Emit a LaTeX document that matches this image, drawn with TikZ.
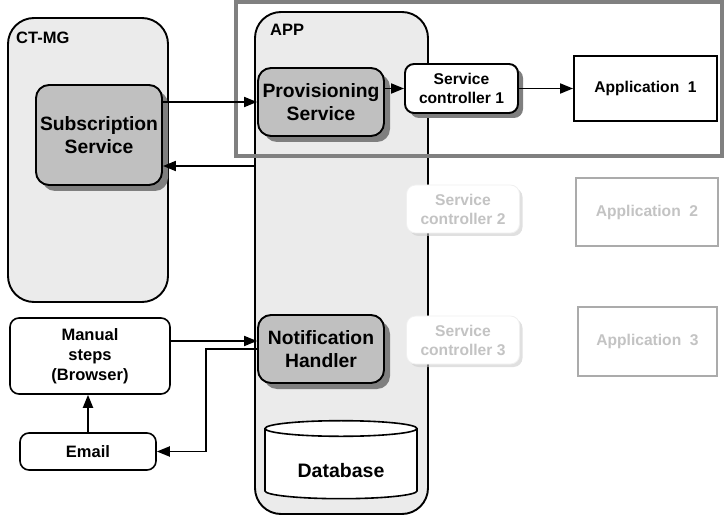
\documentclass[tikz,border=0pt]{standalone}
\usepackage{fontspec}
\setmainfont{Liberation Sans}
\usetikzlibrary{arrows.meta,shadows,shapes.geometric}

\definecolor{panelgray}{HTML}{EBEBEB}
\definecolor{boxgray}{HTML}{C0C0C0}
\definecolor{shadegray}{HTML}{7F7F7F}
\definecolor{fadetext}{HTML}{C3C3C3}
\definecolor{fadeline}{HTML}{ABABAB}
\definecolor{framegray}{HTML}{808080}

\tikzset{
    panel/.style={draw, line width=1.9pt, fill=panelgray, rounded corners=26pt, inner sep=0pt},
    paneltitle/.style={anchor=west, inner sep=0pt, font=\fontsize{16.5}{19}\selectfont\bfseries},
    service/.style={draw, line width=1.9pt, fill=boxgray, rounded corners=13pt, align=center,
        inner sep=0pt, font=\fontsize{19.3}{22.5}\selectfont\bfseries,
        drop shadow={shadow xshift=6pt, shadow yshift=-6pt, fill=shadegray, opacity=1}},
    ctrl/.style={draw, line width=1.9pt, fill=white, rounded corners=9pt, align=center,
        inner sep=0pt, minimum width=113pt, minimum height=49pt,
        font=\fontsize{15.6}{19}\selectfont\bfseries,
        drop shadow={shadow xshift=5pt, shadow yshift=-5pt, fill=shadegray, opacity=1}},
    ctrlfaded/.style={draw=black!6, line width=0.8pt, fill=white, rounded corners=9pt, align=center,
        inner sep=0pt, minimum width=113pt, minimum height=48pt, text=fadetext,
        font=\fontsize{15.6}{19}\selectfont\bfseries,
        drop shadow={shadow xshift=3pt, shadow yshift=-3pt, fill=black!20, opacity=0.6}},
    appbox/.style={draw, line width=1.9pt, fill=white, inner sep=0pt,
        font=\fontsize{15.6}{18}\selectfont\bfseries},
    appfaded/.style={appbox, draw=fadeline, text=fadetext},
    plainbox/.style={draw, line width=1.6pt, fill=white, rounded corners=9pt, align=center,
        inner sep=0pt, font=\fontsize{16.5}{20}\selectfont\bfseries},
    flow/.style={-{Triangle[length=13pt,width=10pt]}, line width=1.9pt},
}

\begin{document}
\begin{tikzpicture}[x=1pt,y=-1pt]
    \useasboundingbox (0,0) rectangle (724,516);
    % containers
    \node[panel, minimum width=160pt, minimum height=284pt] (ctmg) at (88,160) {};
    \node[panel, minimum width=173pt, minimum height=502pt] (app) at (341.5,263) {};
    \node[paneltitle] (ctmgtitle) at (16,38) {CT-MG};
    \node[paneltitle] (apptitle) at (270,30) {APP};

    % services
    \node[service, minimum width=126pt, minimum height=100pt] (sub) at (99,135) {Subscription\\Service};
    \node[service, minimum width=126pt, minimum height=68pt] (prov) at (321,102) {Provisioning\\Service};
    \node[service, minimum width=126pt, minimum height=68pt] (notif) at (321,349) {Notification\\Handler};
    \node[cylinder, draw, line width=1.6pt, fill=white, shape border rotate=90, aspect=0.18,
        minimum width=152pt, minimum height=78pt, inner sep=0pt,
        font=\fontsize{19.5}{22}\selectfont\bfseries] (db) at (341,464)
        {\raisebox{-7pt}[\height][\depth]{Database}};

    % controllers and applications
    \node[ctrl] (sc1) at (461.5,88.5) {Service\\controller 1};
    \node[ctrlfaded] (sc2) at (463,209) {Service\\controller 2};
    \node[ctrlfaded] (sc3) at (463,340) {Service\\controller 3};
    \node[appbox, minimum width=143pt, minimum height=65pt] (app1) at (645.5,88.5) {Application~~1};
    \node[appfaded, minimum width=142pt, minimum height=68pt] (app2) at (647,212) {Application~~2};
    \node[appfaded, minimum width=139pt, minimum height=69pt] (app3) at (647.5,341.5) {Application~~3};

    % browser side
    \node[plainbox, minimum width=160pt, minimum height=76pt] (manual) at (90,356) {Manual\\steps\\(Browser)};
    \node[plainbox, minimum width=136pt, minimum height=37pt] (email) at (88,451.5) {Email};

    % highlight
    \draw[framegray, line width=4pt] (236,2) rectangle (722,156);

    % connectors
    \coordinate (retour) at (app.west |- 0,166);
    \coordinate (manualout) at ([yshift=15pt]manual.east);
    \draw[flow] (sub.east |- prov.west) -- (prov.west);
    \draw[flow] (retour) -- (sub.east |- retour);
    \draw[flow] (prov.east |- sc1.west) -- (sc1.west);
    \draw[flow] (sc1.east) -- (app1.west);
    \draw[flow] (manualout) -- (manualout -| notif.west);
    \draw[flow] (notif.west) -- ++(-51,0) |- (email.east);
    \draw[flow] (email.north) -- (email.north |- manual.south);
\end{tikzpicture}
\end{document}
